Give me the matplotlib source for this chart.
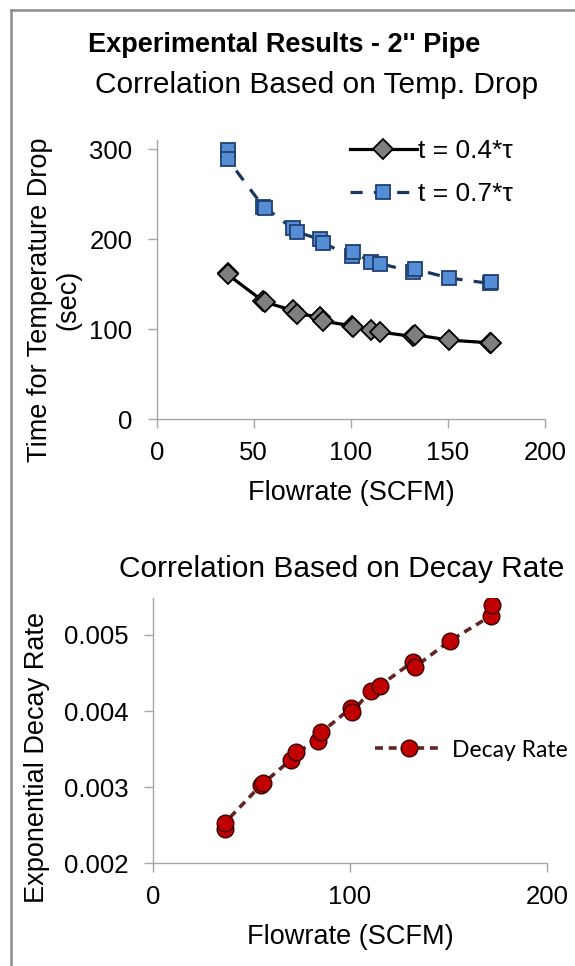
import numpy as np
import matplotlib
matplotlib.use('Agg')
import matplotlib.pyplot as plt
from matplotlib.lines import Line2D

plt.rcParams['font.family'] = ['Liberation Sans', 'DejaVu Sans']

# Data
flow = [36.5, 36.5, 55, 56, 70, 72.5, 84, 85.5, 100.5, 101,
        110.5, 115, 132, 133, 150.5, 171.5, 172]
t_04 = [162, 161, 131, 130, 121, 117, 114, 109, 104, 103,
        99, 97, 92, 94, 88, 85, 85]
t_07 = [299, 289, 236, 235, 212, 208, 200, 196, 181, 186,
        175, 173, 164, 167, 157, 151, 152]
decay = [0.00245, 0.00253, 0.00303, 0.00305, 0.00336, 0.00346, 0.00360, 0.00372,
         0.00404, 0.00399, 0.00426, 0.00433, 0.00465, 0.00458, 0.00492,
         0.00525, 0.00539]

W, H = 575, 966
fig = plt.figure(figsize=(W/100, H/100), dpi=100)

AX_GRAY = '#a6a6a6'
TICK_FS = 18.5
LABEL_FS = 19.5


def style_axes(ax):
    for s in ['top', 'right']:
        ax.spines[s].set_visible(False)
    for s in ['left', 'bottom']:
        ax.spines[s].set_color(AX_GRAY)
        ax.spines[s].set_linewidth(1.0)
    ax.tick_params(direction='out', length=6.5, width=1.0, color=AX_GRAY,
                   labelsize=TICK_FS, pad=11)


# Top chart
ax1 = fig.add_axes([156.7/W, 1 - 419.3/H, (545 - 156.7)/W, (419.3 - 140.3)/H])
ax1.plot(flow, t_04, color='black', lw=2.3, marker='D', ms=10,
         mfc='#7f7f7f', mec='black', mew=1.3, label='t = 0.4*τ')
ax1.plot(flow, t_07, color='#17375e', lw=2.3, ls=(0, (3.8, 3.5)), marker='s', ms=10.5,
         mfc='#558ed5', mec='#1f3f73', mew=1.3, label='t = 0.7*τ')
ax1.set_xlim(0, 200)
ax1.set_ylim(0, 310)
ax1.set_xticks([0, 50, 100, 150, 200])
ax1.set_yticks([0, 100, 200, 300])
style_axes(ax1)
ax1.tick_params(axis='x', pad=9)
ax1.set_xlabel('Flowrate (SCFM)', fontsize=LABEL_FS, labelpad=11)
ax1.legend(loc='upper right', bbox_to_anchor=(0.945, 1.042), frameon=False, fontsize=19,
           handlelength=2.55, handletextpad=0.05, labelspacing=0.72, borderaxespad=0)

# Bottom chart
ax2 = fig.add_axes([152.7/W, 1 - 863.3/H, (547.3 - 152.7)/W, (863.3 - 598.3)/H])
ax2.plot(flow, decay, color='#632523', lw=2.6, ls=(0, (2.2, 1.6)), marker='o', ms=12,
         mfc='#c00000', mec='#3a0000', mew=1.0, label='Decay Rate')
ax2.set_xlim(0, 200)
ax2.set_ylim(0.002, 0.00548)
ax2.set_xticks([0, 100, 200])
ax2.set_yticks([0.002, 0.003, 0.004, 0.005])
ax2.set_yticklabels(['0.002', '0.003', '0.004', '0.005'])
style_axes(ax2)
ax2.tick_params(axis='x', pad=9)
ax2.set_xlabel('Flowrate (SCFM)', fontsize=LABEL_FS, labelpad=11)
ax2.legend(loc='center left', bbox_to_anchor=(0.54, 0.4275), frameon=False,
           prop={'family': 'Lato', 'size': 16.5}, handlelength=2.95, handletextpad=0.4,
           borderaxespad=0)

# Titles and y labels
fig.text(284/W, 1 - 45/H, "Experimental Results - 2'' Pipe", ha='center', va='center',
         fontsize=19.5, fontweight='bold')
fig.text(317/W, 1 - 85/H, 'Correlation Based on Temp. Drop', ha='center', va='center',
         fontsize=21.5)
fig.text(342/W, 1 - 569/H, 'Correlation Based on Decay Rate', ha='center', va='center',
         fontsize=21.5)
fig.text(54/W, 1 - 300/H, 'Time for Temperature Drop\n(sec)', ha='center', va='center',
         rotation=90, fontsize=LABEL_FS, linespacing=1.1)
fig.text(37/W, 1 - 757/H, 'Exponential Decay Rate', ha='center', va='center',
         rotation=90, fontsize=LABEL_FS)

# outer frame (left and top edges visible)
fig.add_artist(Line2D([11/W, 11/W], [0, 1 - 10/H], color='#8c8c8c', lw=1.8,
                      transform=fig.transFigure))
fig.add_artist(Line2D([11/W, 1], [1 - 10/H, 1 - 10/H], color='#8c8c8c', lw=1.8,
                      transform=fig.transFigure))

fig.savefig('out.png', dpi=100)
